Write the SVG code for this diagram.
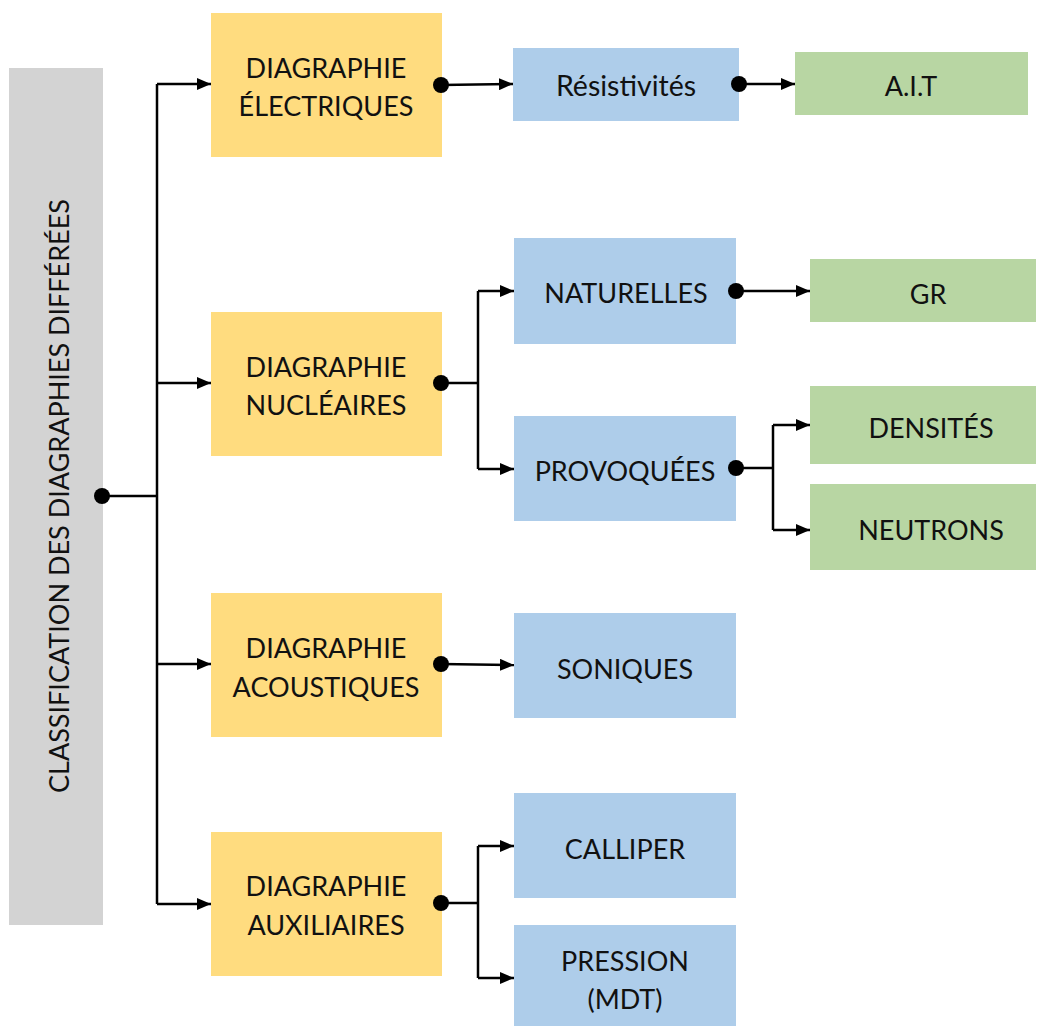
<svg xmlns="http://www.w3.org/2000/svg" width="1037" height="1027" viewBox="0 0 1037 1027">
<style>
.y{fill:#FFDC7F}
.b{fill:#AECDEA}
.g{fill:#B8D6A3}
.gr{fill:#D3D3D3}
text{font-family:"Lato","Open Sans","Liberation Sans",sans-serif;font-size:27px;fill:#111;text-anchor:middle;dominant-baseline:central}
.c path{fill:none;stroke:#000;stroke-width:2.5}
.c circle{fill:#000}
</style>
<defs>
<marker id="a" markerWidth="14" markerHeight="12" refX="14" refY="6" orient="auto" markerUnits="userSpaceOnUse">
<path d="M0,0 L14,6 L0,12 Z" fill="#000"/>
</marker>
</defs>
<rect width="1037" height="1027" fill="#fff"/>
<g id="root"><rect class="gr" x="9" y="68" width="94" height="857"/>
<text transform="translate(58,496) rotate(-90)">CLASSIFICATION DES DIAGRAPHIES DIFFÉRÉES</text></g>
<g id="elec"><rect class="y" x="211" y="13" width="231" height="144"/><text x="326" y="67">DIAGRAPHIE</text><text x="326" y="105">ÉLECTRIQUES</text></g>
<g id="nucl"><rect class="y" x="211" y="312" width="231" height="144"/><text x="326" y="366">DIAGRAPHIE</text><text x="326" y="404">NUCLÉAIRES</text></g>
<g id="acou"><rect class="y" x="211" y="593" width="231" height="144"/><text x="326" y="647">DIAGRAPHIE</text><text x="326" y="686">ACOUSTIQUES</text></g>
<g id="aux"><rect class="y" x="211" y="832" width="231" height="144"/><text x="326" y="885">DIAGRAPHIE</text><text x="326" y="924">AUXILIAIRES</text></g>
<g id="resis"><rect class="b" x="513" y="48" width="226" height="73"/><text x="626" y="85" style="font-size:28.5px">Résistivités</text></g>
<g id="natur"><rect class="b" x="514" y="238" width="222" height="106"/><text x="626" y="292">NATURELLES</text></g>
<g id="provo"><rect class="b" x="514" y="416" width="222" height="105"/><text x="625" y="470">PROVOQUÉES</text></g>
<g id="soni"><rect class="b" x="514" y="613" width="222" height="105"/><text x="625" y="668">SONIQUES</text></g>
<g id="calli"><rect class="b" x="514" y="793" width="222" height="105"/><text x="625" y="848">CALLIPER</text></g>
<g id="press"><rect class="b" x="514" y="925" width="222" height="101"/><text x="625" y="960">PRESSION</text><text x="625" y="998">(MDT)</text></g>
<g id="ait"><rect class="g" x="795" y="52" width="233" height="63"/><text x="911" y="85">A.I.T</text></g>
<g id="gr"><rect class="g" x="810" y="259" width="226" height="63"/><text x="928" y="293">GR</text></g>
<g id="dens"><rect class="g" x="810" y="386" width="226" height="78"/><text x="931" y="427">DENSITÉS</text></g>
<g id="neut"><rect class="g" x="810" y="484" width="226" height="86"/><text x="931" y="529">NEUTRONS</text></g>
<g id="connectors" class="c">
<path d="M102,496 H157"/>
<path d="M157,84 V904"/>
<path d="M157,84 H211" marker-end="url(#a)"/>
<path d="M157,383 H211" marker-end="url(#a)"/>
<path d="M157,664 H211" marker-end="url(#a)"/>
<path d="M157,904 H211" marker-end="url(#a)"/>
<circle cx="102" cy="496" r="8"/>
<path d="M441,85 L513,84" marker-end="url(#a)"/>
<circle cx="441" cy="85" r="8"/>
<path d="M739,84 H795" marker-end="url(#a)"/>
<circle cx="739" cy="84" r="8"/>
<path d="M441,383 H478"/>
<path d="M478,291 V469"/>
<path d="M478,291 H514" marker-end="url(#a)"/>
<path d="M478,469 H514" marker-end="url(#a)"/>
<circle cx="441" cy="383" r="8"/>
<path d="M736,291 H810" marker-end="url(#a)"/>
<circle cx="736" cy="291" r="8"/>
<path d="M736,468 H773"/>
<path d="M773,425 V530"/>
<path d="M773,425 H810" marker-end="url(#a)"/>
<path d="M773,530 H810" marker-end="url(#a)"/>
<circle cx="736" cy="468" r="8"/>
<path d="M441,664 L514,665" marker-end="url(#a)"/>
<circle cx="441" cy="664" r="8"/>
<path d="M441,903 H478"/>
<path d="M478,846 V978"/>
<path d="M478,846 H514" marker-end="url(#a)"/>
<path d="M478,978 H514" marker-end="url(#a)"/>
<circle cx="441" cy="903" r="8"/>
</g>
</svg>
